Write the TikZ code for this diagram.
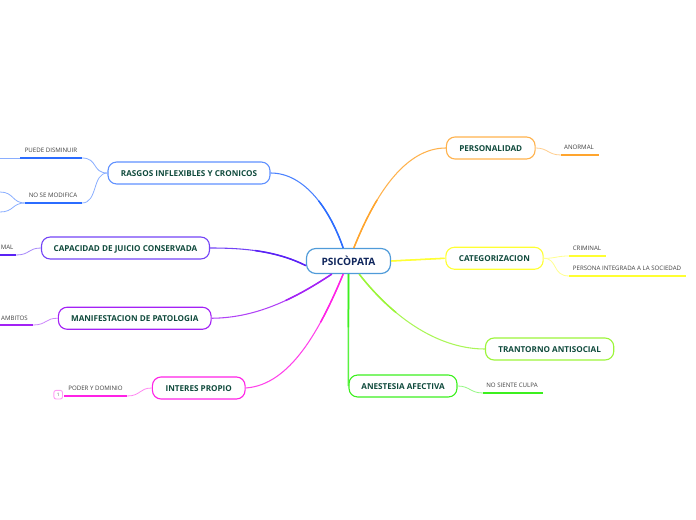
\documentclass[tikz,border=0pt]{standalone}
\usepackage{fontspec}
\setmainfont{Open Sans}
\definecolor{txtgreen}{HTML}{0F4A3C}
\definecolor{txtroot}{HTML}{10265C}
\definecolor{cblue}{HTML}{2B6CFF}
\definecolor{cviolet}{HTML}{5A22F5}
\definecolor{cpurple}{HTML}{A322F5}
\definecolor{cpink}{HTML}{FF22E6}
\definecolor{cgreen}{HTML}{3CF01E}
\definecolor{clime}{HTML}{9CF53A}
\definecolor{cyellow}{HTML}{FFFF33}
\definecolor{corange}{HTML}{FFA52E}
\definecolor{croot}{HTML}{4F9BD9}
\tikzset{
  rootbox/.style={draw=#1, line width=.9pt, rounded corners=7pt, inner sep=0pt, text=txtroot,
    font=\bfseries\fontsize{7.6pt}{9pt}\selectfont},
  branchbox/.style={draw=#1, line width=.85pt, rounded corners=6.5pt, inner sep=0pt, minimum height=16.5pt,
    text height=5.2pt, text depth=0pt, text=txtgreen, font=\bfseries\fontsize{6.1pt}{8pt}\selectfont},
  leaftext/.style={inner sep=0pt, yshift=-.4pt, text=black!75, font=\fontsize{4.6pt}{6pt}\selectfont},
  mainline/.style={draw=#1!85, line width=.8pt,
    postaction={draw=#1, line width=1.15pt, dash pattern=on 40pt off 1000pt}},
  twig/.style={draw=#1!55, line width=.6pt},
  underline/.style={draw=#1, line width=1.3pt}
}
\begin{document}
\begin{tikzpicture}[x=.75pt,y=-.75pt]
    \useasboundingbox (0,0) rectangle (696,520);
    % centre
    \node[rootbox=croot, minimum width=63pt, minimum height=18.75pt] (psico) at (348.5,261) {PSICÒPATA};
    % left side
    \node[branchbox=cblue!75, minimum width=121.5pt] (rasgos) at (189,173) {RASGOS INFLEXIBLES Y CRONICOS};
    \node[branchbox=cviolet!85, minimum width=126pt] (capacidad) at (125.5,248) {CAPACIDAD DE JUICIO CONSERVADA};
    \node[branchbox=cpurple, minimum width=114.5pt] (manifest) at (134.75,318.25) {MANIFESTACION DE PATOLOGIA};
    \node[branchbox=cpink, minimum width=69.5pt] (interes) at (198.75,388) {INTERES PROPIO};
    % right side
    \node[branchbox=corange!85, minimum width=66.5pt] (person) at (490.75,148) {PERSONALIDAD};
    \node[branchbox=cyellow, minimum width=73pt] (categ) at (494.5,258.25) {CATEGORIZACION};
    \node[branchbox=clime, minimum width=96.25pt] (trant) at (549.6,349) {TRANTORNO ANTISOCIAL};
    \node[branchbox=cgreen, minimum width=81pt] (anest) at (403,386) {ANESTESIA AFECTIVA};
    % leaf texts
    \node[leaftext] (puede) at (51,149.5) {PUEDE DISMINUIR};
    \node[leaftext] (nose) at (53,194.5) {NO SE MODIFICA};
    \node[leaftext, anchor=west] (mal) at (0.5,247) {MAL};
    \node[leaftext] (ambitos) at (14.5,317.5) {AMBITOS};
    \node[leaftext] (poder) at (95.5,387.5) {PODER Y DOMINIO};
    \node[leaftext] (anormal) at (579,147) {ANORMAL};
    \node[leaftext] (criminal) at (587,247.5) {CRIMINAL};
    \node[leaftext] (integrada) at (627,267.5) {PERSONA INTEGRADA A LA SOCIEDAD};
    \node[leaftext] (culpa) at (512,385) {NO SIENTE CULPA};
    \node[draw=cpink!45, line width=.7pt, rounded corners=1.5pt, minimum size=6.4pt, inner sep=0pt, text=black!60,
      font=\fontsize{3.5pt}{4pt}\selectfont] (count) at (58.2,394.7) {1};
    % line ends
    \coordinate (puedeA) at (20,158);
    \coordinate (puedeB) at (82,158);
    \coordinate (puedeC) at (0,158);
    \coordinate (noseA) at (25,203);
    \coordinate (noseB) at (82,203);
    \coordinate (noseC) at (0,192);
    \coordinate (noseD) at (0,212);
    \coordinate (malA) at (0,255);
    \coordinate (malB) at (16,255);
    \coordinate (ambA) at (0,325);
    \coordinate (ambB) at (33,325);
    \coordinate (poderA) at (64,396);
    \coordinate (poderB) at (127,396);
    \coordinate (anorA) at (561,155);
    \coordinate (anorB) at (599,155);
    \coordinate (crimA) at (569,256);
    \coordinate (crimB) at (606,256);
    \coordinate (integA) at (569,276);
    \coordinate (integB) at (686,276);
    \coordinate (culpaA) at (483,393);
    \coordinate (culpaB) at (543,393);
    % from the centre
    \draw[mainline=cblue] ([xshift=-4pt]psico.north) .. controls (330,210) and (305,173) .. (rasgos.east);
    \draw[mainline=cviolet] ([yshift=-3.5pt]psico.west) .. controls (275,250) and (240,248) .. (capacidad.east);
    \draw[mainline=cpurple] ([xshift=-12.5pt]psico.south) .. controls (300,295) and (260,318) .. (manifest.east);
    \draw[mainline=cpink] ([xshift=-4pt]psico.south) .. controls (320,330) and (290,385) .. (interes.east);
    \draw[mainline=corange] ([xshift=4pt]psico.north) .. controls (375,195) and (405,148) .. (person.west);
    \draw[mainline=cyellow] (psico.east) -- (categ.west);
    \draw[mainline=clime] ([xshift=8pt]psico.south) .. controls (395,320) and (440,349) .. (trant.west);
    \draw[mainline=cgreen, line width=1.1pt] (psico.south) -- (anest.west);
    % twigs
    \draw[twig=cblue] (rasgos.west) .. controls (92,173) and (98,158) .. (puedeB);
    \draw[twig=cblue] (rasgos.west) .. controls (92,173) and (98,203) .. (noseB);
    \draw[twig=cblue] (noseA) .. controls (12,203) and (14,192) .. (noseC);
    \draw[twig=cblue] (noseA) .. controls (12,203) and (14,212) .. (noseD);
    \draw[twig=cblue] (puedeC) -- (puedeA);
    \draw[twig=cviolet] (capacidad.west) .. controls (28,248) and (30,255) .. (malB);
    \draw[twig=cpurple] (manifest.west) .. controls (45,318) and (47,325) .. (ambB);
    \draw[twig=cpink] (interes.west) .. controls (139,388) and (141,396) .. (poderB);
    \draw[twig=corange] (person.east) .. controls (548,148) and (548,155) .. (anorA);
    \draw[twig=cyellow] (categ.east) .. controls (556,258.5) and (556,256) .. (crimA);
    \draw[twig=cyellow] (categ.east) .. controls (558,258.5) and (552,276) .. (integA);
    \draw[twig=cgreen] (anest.east) .. controls (470,386) and (470,393) .. (culpaA);
    % underlines
    \draw[underline=cblue] (puedeA) -- (puedeB);
    \draw[underline=cblue] (noseA) -- (noseB);
    \draw[underline=cviolet] (malA) -- (malB);
    \draw[underline=cpurple] (ambA) -- (ambB);
    \draw[underline=cpink] (poderA) -- (poderB);
    \draw[underline=corange] (anorA) -- (anorB);
    \draw[underline=cyellow] (crimA) -- (crimB);
    \draw[underline=cyellow] (integA) -- (integB);
    \draw[underline=cgreen] (culpaA) -- (culpaB);
\end{tikzpicture}
\end{document}
